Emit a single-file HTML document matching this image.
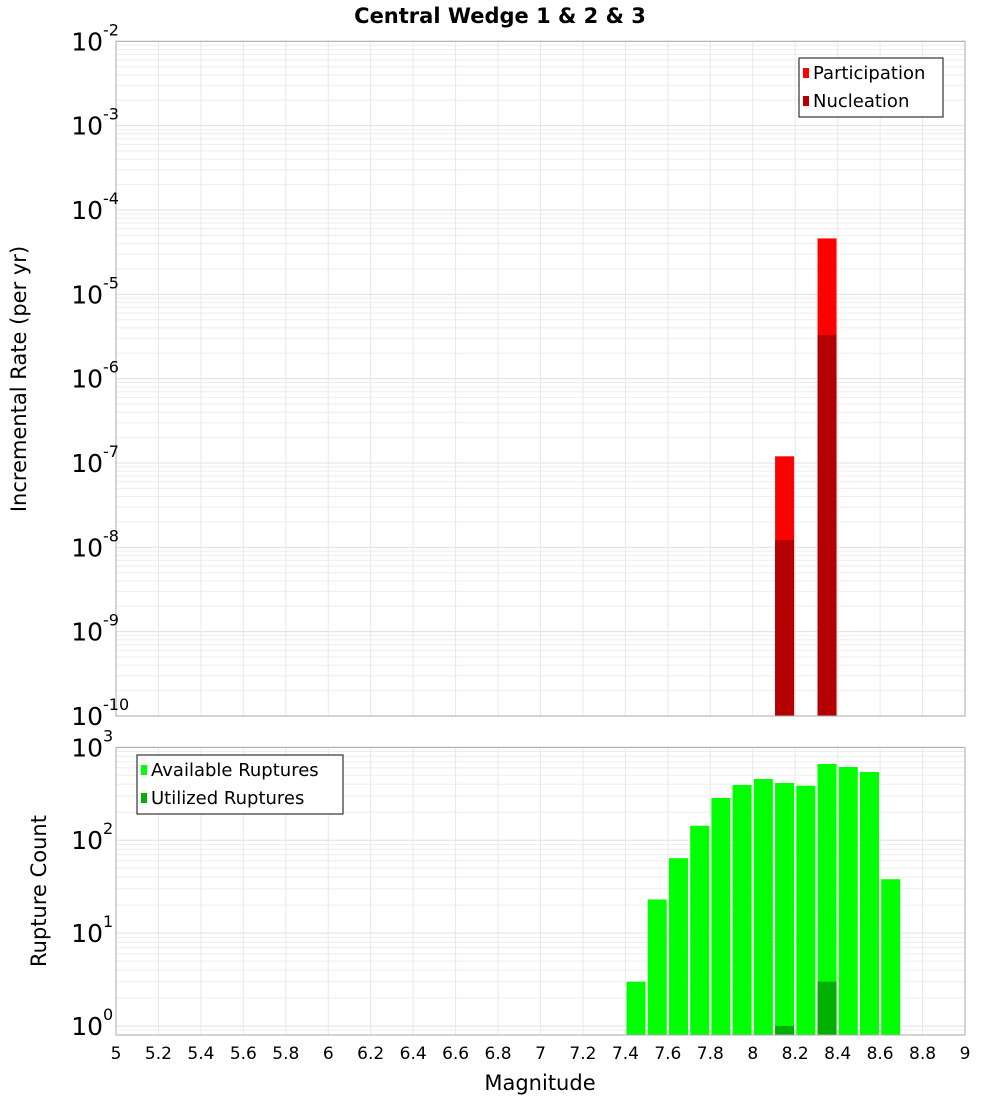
<!DOCTYPE html>
<html><head><meta charset="utf-8"><style>
body{margin:0;background:#fff;}
svg text{font-family:"DejaVu Sans","Liberation Sans",sans-serif;}
</style></head><body>
<svg id="chart" width="1000" height="1100" xmlns="http://www.w3.org/2000/svg"></svg>
<script>
const mags=[7.45,7.55,7.65,7.75,7.85,7.95,8.05,8.15,8.25,8.35,8.45,8.55,8.65];
const available=[3,23,64,143,285,393,456,413,386,661,614,542,38];
const utilMags=[8.15,8.35];
const utilized=[1,3];
const rateMags=[8.15,8.35];
const participation=[1.2e-7,4.6e-5];
const nucleation=[1.22e-8,3.3e-6];
const xTicks=[5,5.2,5.4,5.6,5.8,6,6.2,6.4,6.6,6.8,7,7.2,7.4,7.6,7.8,8,8.2,8.4,8.6,8.8,9];
const topExps=[-2,-3,-4,-5,-6,-7,-8,-9,-10];
const botExps=[3,2,1,0];

const NS="http://www.w3.org/2000/svg";
const svg=document.getElementById('chart');
function el(t,a,p){const e=document.createElementNS(NS,t);for(const k in a)e.setAttribute(k,a[k]);(p||svg).appendChild(e);return e;}
const L=116,R=965;
const X=m=>L+(m-5)/4*(R-L);
const T1=41.3,B1=716;
const Y1=v=>T1+(-2-Math.log10(v))*(B1-T1)/8;
const T2=747.4,B2=1035,dec2=92.9;
const Y2=v=>1026-Math.log10(v)*dec2;

// title
let t=el('text',{x:500,y:23,'text-anchor':'middle','font-size':21,'font-weight':'bold'});
t.textContent='Central Wedge 1 & 2 & 3';

function grid(top,bot,Y,lo,hi,name){
  const g=el('g',{});
  for(let e=lo;e<=hi;e++)for(let k=1;k<10;k++){const y=Y(k*Math.pow(10,e));if(y<top-0.5||y>bot+0.5)continue;
    el('line',{x1:L,x2:R,y1:y,y2:y,stroke:k==1?'#e0e0e0':'#eeeeee','stroke-width':1},g);}
  xTicks.forEach(m=>el('line',{x1:X(m),x2:X(m),y1:top,y2:bot,stroke:'#e8e8e8','stroke-width':1},g));
}
grid(T1,B1,Y1,-10,-2,'top-grid');
grid(T2,B2,Y2,-1,3,'bottom-grid');

// top bars
const bw=19;
rateMags.forEach((m,i)=>{
  let r=el('rect',{x:X(m)-bw/2,y:Y1(participation[i]),width:bw,height:B1-Y1(participation[i]),fill:'#ff0000'});
  
  r=el('rect',{x:X(m)-bw/2,y:Y1(nucleation[i]),width:bw,height:B1-Y1(nucleation[i]),fill:'#b40000'});
  
});
// bottom bars
mags.forEach((m,i)=>{
  const y=Y2(available[i]);
  let r=el('rect',{x:X(m)-bw/2,y:y,width:bw,height:B2-y,fill:'#00ff00'});
  
});
utilMags.forEach((m,i)=>{
  const y=Y2(utilized[i]);
  let r=el('rect',{x:X(m)-bw/2,y:y,width:bw,height:B2-y,fill:'#00b000'});
  
});

// frames
el('rect',{x:L,y:T1,width:R-L,height:B1-T1,fill:'none',stroke:'#aaaaaa'});
el('rect',{x:L,y:T2,width:R-L,height:B2-T2,fill:'none',stroke:'#aaaaaa'});

// y tick labels
function ylab(y,e,name){
  const tx=el('text',{x:103,y:y+9,'text-anchor':'end','font-size':25});
  
  tx.textContent='10';
  const s=el('text',{x:103,y:y-6,'font-size':16});
  
  s.textContent=String(e);
}
topExps.forEach(e=>ylab(Y1(Math.pow(10,e)),e,'top-y-tick-label'));
botExps.forEach(e=>ylab(Y2(Math.pow(10,e)),e,'bottom-y-tick-label'));

// x ticks
xTicks.forEach(m=>{
  const tx=el('text',{x:X(m),y:1059,'text-anchor':'middle','font-size':17});
  
  tx.textContent=String(m);
});
t=el('text',{x:540,y:1090,'text-anchor':'middle','font-size':21});
t.textContent='Magnitude';
t=el('text',{x:0,y:0,'text-anchor':'middle','font-size':21,transform:'translate(26,379) rotate(-90)'});
t.textContent='Incremental Rate (per yr)';
t=el('text',{x:0,y:0,'text-anchor':'middle','font-size':21,transform:'translate(46,891) rotate(-90)'});
t.textContent='Rupture Count';

// legends
function legend(x,y,w,items,name){
  const g=el('g',{});
  el('rect',{x:x,y:y,width:w,height:59,fill:'#fff',stroke:'#333','stroke-width':1.2},g);
  items.forEach((it,i)=>{
    el('rect',{x:x+4,y:y+10+i*28,width:6,height:10,fill:it[1]},g);
    const tx=el('text',{x:x+14,y:y+21+i*28,'font-size':18},g);
    
    tx.textContent=it[0];
  });
}
legend(799,58,144,[['Participation','#ff0000'],['Nucleation','#b40000']],'top-legend');
legend(137,755,206,[['Available Ruptures','#00ff00'],['Utilized Ruptures','#00b000']],'bottom-legend');
</script>
</body></html>
